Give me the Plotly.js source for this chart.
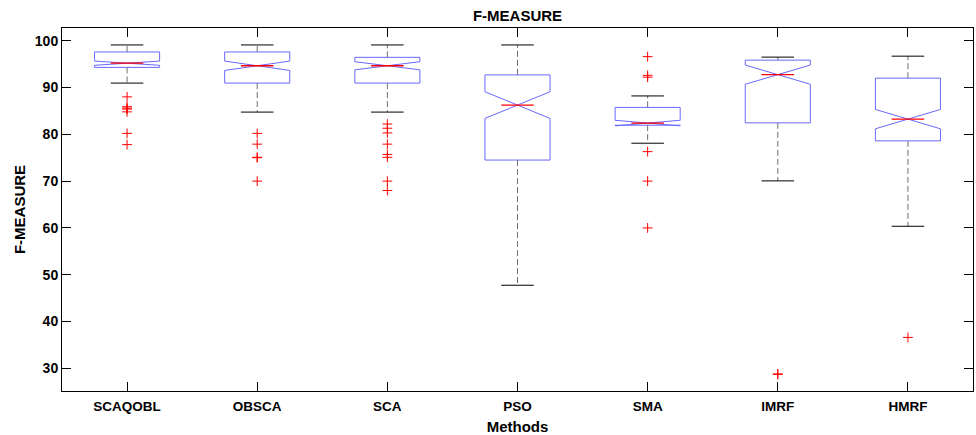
<!DOCTYPE html>
<html>
<head>
<meta charset="utf-8">
<script src="https://cdn.plot.ly/plotly-3.0.1.min.js"></script>
<style>html,body{margin:0;padding:0;background:#fff;}#chart{width:976px;height:435px;}</style>
</head>
<body>
<div id="chart"></div>
<script>
// ---- data ----
const methods = ['SCAQOBL', 'OBSCA', 'SCA', 'PSO', 'SMA', 'IMRF', 'HMRF'];
const upperWhisker = [99.1, 99.1, 99.1, 99.1, 88.2, 96.5, 96.7];
const q3Values = [97.6, 97.6, 96.45, 92.7, 85.75, 95.85, 92.0];
const medianValues = [95.2, 94.65, 94.65, 86.25, 82.4, 92.75, 83.25];
const q1Values = [94.3, 90.95, 90.95, 74.5, 81.95, 82.45, 78.6];
const lowerWhisker = [90.95, 84.75, 84.75, 47.75, 78.1, 70.05, 60.35];
const notchHalf = [0.45, 1.0, 0.87, 2.85, 0.6, 2.05, 2.07];
const outSCAQOBL = [88.0, 85.9, 85.6, 85.4, 84.8, 80.2, 77.8];
const outOBSCA = [80.2, 77.9, 75.1, 75.0, 70.0];
const outSCA = [82.2, 81.3, 80.3, 77.9, 75.7, 75.1, 70.0, 68.0];
const outPSO = [];
const outSMA = [96.6, 92.6, 92.2, 76.3, 70.0, 60.0];
const outIMRF = [28.8, 28.7];
const outHMRF = [36.6];
const outliers = [outSCAQOBL, outOBSCA, outSCA, outPSO, outSMA, outIMRF, outHMRF];
const yTicks = [30, 40, 50, 60, 70, 80, 90, 100];

// ---- build traces ----
const pos = methods.map((m, i) => i + 1);
const boxW = 0.5;
const capHalf = boxW / 4;

const boxTrace = {
  type: 'box',
  x: pos,
  q1: q1Values,
  median: medianValues,
  q3: q3Values,
  lowerfence: q1Values,
  upperfence: q3Values,
  notchspan: notchHalf,
  notched: true,
  notchwidth: 0.5,
  width: boxW,
  whiskerwidth: 0,
  boxpoints: false,
  line: {color: '#6868ff', width: 1},
  fillcolor: 'rgba(0,0,0,0)',
  hoverinfo: 'skip',
  showlegend: false
};

const wx = [], wy = [];
pos.forEach((p, i) => {
  wx.push(p, p, null, p, p, null);
  wy.push(q3Values[i], upperWhisker[i], null, q1Values[i], lowerWhisker[i], null);
});
const whiskerTrace = {
  type: 'scatter', mode: 'lines', x: wx, y: wy,
  line: {color: '#707070', width: 1, dash: '6px,3px'},
  hoverinfo: 'skip', showlegend: false
};

const cx = [], cy = [];
pos.forEach((p, i) => {
  cx.push(p - capHalf, p + capHalf, null, p - capHalf, p + capHalf, null);
  cy.push(upperWhisker[i], upperWhisker[i], null, lowerWhisker[i], lowerWhisker[i], null);
});
const capTrace = {
  type: 'scatter', mode: 'lines', x: cx, y: cy,
  line: {color: '#000', width: 1},
  hoverinfo: 'skip', showlegend: false
};

const mx = [], my = [];
pos.forEach((p, i) => {
  mx.push(p - capHalf, p + capHalf, null);
  my.push(medianValues[i], medianValues[i], null);
});
const medianTrace = {
  type: 'scatter', mode: 'lines', x: mx, y: my,
  line: {color: '#ff0000', width: 1.3},
  hoverinfo: 'skip', showlegend: false
};

const ox = [], oy = [];
outliers.forEach((arr, i) => arr.forEach(v => { ox.push(pos[i]); oy.push(v); }));
const outTrace = {
  type: 'scatter', mode: 'markers', x: ox, y: oy,
  marker: {symbol: 'cross-thin-open', size: 7, color: '#ff0000', line: {color: '#ff0000', width: 1}},
  hoverinfo: 'skip', showlegend: false
};

const font = {family: 'Liberation Sans, Arial, Helvetica, sans-serif', color: '#000'};

const layout = {
  width: 976, height: 435,
  margin: {l: 62, r: 3, t: 28, b: 44, pad: 0},
  paper_bgcolor: '#fff', plot_bgcolor: '#fff',
  showlegend: false,
  title: {
    text: 'F-MEASURE',
    font: Object.assign({}, font, {size: 15, weight: 'bold'}),
    x: 0.5, xref: 'paper', xanchor: 'center',
    y: 1 - 16 / 435, yref: 'container', yanchor: 'middle'
  },
  xaxis: {
    range: [0.5, 7.5],
    tickmode: 'array', tickvals: pos, ticktext: methods,
    tickfont: Object.assign({}, font, {size: 13.5, weight: 'bold'}),
    ticks: 'inside', ticklen: 9, tickwidth: 1, tickcolor: '#000',
    ticklabelstandoff: 3,
    showline: true, linecolor: '#000', linewidth: 1, mirror: 'ticks',
    showgrid: false, zeroline: false,
    title: {text: 'Methods', font: Object.assign({}, font, {size: 15, weight: 'bold'}), standoff: 8}
  },
  yaxis: {
    range: [25.15, 102.72],
    tickmode: 'array', tickvals: yTicks, ticktext: yTicks.map(String),
    tickfont: Object.assign({}, font, {size: 14, weight: 'bold'}),
    ticks: 'inside', ticklen: 9, tickwidth: 1, tickcolor: '#000',
    showline: true, linecolor: '#000', linewidth: 1, mirror: 'ticks',
    showgrid: false, zeroline: false,
    title: {text: 'F-MEASURE', font: Object.assign({}, font, {size: 15, weight: 'bold'}), standoff: 5}
  }
};

Plotly.newPlot('chart', [boxTrace, whiskerTrace, capTrace, medianTrace, outTrace], layout, {staticPlot: true, displayModeBar: false});
</script>
</body>
</html>
